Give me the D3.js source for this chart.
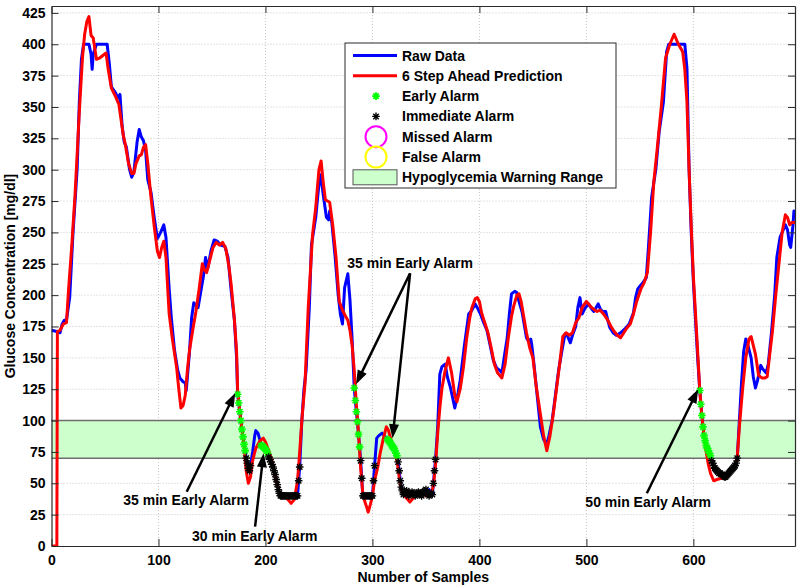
<!DOCTYPE html>
<html>
<head>
<meta charset="utf-8">
<script src="https://cdn.jsdelivr.net/npm/d3@7"></script>
<style>
  body { margin: 0; background: #fff; }
  text { font-family: "Liberation Sans", Arial, sans-serif; font-weight: bold; fill: #000; }
</style>
</head>
<body>
<div id="chart"></div>
<script>
// tick labels
const sampleTicks = [0, 100, 200, 300, 400, 500, 600];
const valueTicks = [0, 25, 50, 75, 100, 125, 150, 175, 200, 225, 250, 275, 300, 325, 350, 375, 400, 425];

// hypoglycemia warning range
const warnLow = 70, warnHigh = 100;

// raw CGM data (sample index, mg/dl)
const rawSamples = [0,5,8,10,12,14,17,20,24,26,28,30,35,37,38,39,42,52,54,56,60,62,64,66,68,70,73,75,77,80,82,84,86,88,90,93,96,99,102,105,107,110,112,115,118,120,123,125,126,129,131,133,135,137,140,142,144,146,149,152,155,158,162,165,168,171,173,174,175,176,177,178,179,180,181,182,183,184,185,186,188,190,191,193,195,196,198,200,202,203,205,207,209,211,213,214,230,231,232,234,236,238,241,243,247,249,251,252,254,257,259,260,262,265,268,270,272,274,277,279,281,283,284,285,286,287,288,289,290,291,300,301,302,304,306,309,312,314,316,318,320,322,323,324,325,326,327,328,329,332,335,338,341,344,347,350,353,356,357,358,359,361,363,365,368,370,373,377,380,382,386,390,393,396,398,401,404,407,410,413,416,419,421,424,426,428,430,433,435,437,440,442,444,446,448,449,451,454,457,460,463,465,468,471,474,477,480,482,485,487,490,492,494,496,499,502,505,507,509,511,513,515,518,520,522,525,528,532,536,540,544,546,548,550,553,556,558,561,565,568,572,575,577,592,594,596,598,600,602,604,606,607,608,609,610,611,612,613,614,615,616,617,619,621,623,625,627,629,630,632,634,636,638,640,641,643,645,647,649,651,654,656,658,660,663,665,668,670,673,676,678,681,684,686,688,690,691,693,694,695];
const rawValues = [172,171,170,177,180,180,198,248,301,354,388,400,400,392,380,392,400,400,385,366,361,357,360,335,322,318,300,294,298,322,332,326,323,315,292,282,262,245,250,256,246,205,182,156,140,134,131,130,124,155,182,194,192,190,205,215,230,221,235,244,243,240,239,230,203,180,150,121,114,107,100,93,87,81,76,70,66,62,60,64,75,88,92,90,84,80,79,77,74,71,67,63,57,49,42,40,40,52,63,100,125,140,190,240,262,280,296,294,280,262,260,267,258,232,200,185,177,206,217,196,165,126,116,107,99,89,79,68,54,40,40,52,64,86,88,90,87,85,83,80,78,74,72,67,60,52,47,44,41,44,40,43,42,40,43,41,45,41,50,60,69,95,137,143,145,135,126,110,122,132,160,185,188,193,190,185,178,172,160,148,142,140,138,155,166,185,201,203,202,195,186,176,166,163,165,160,145,120,95,85,81,88,100,120,140,155,169,168,162,168,175,190,198,185,190,193,189,187,190,193,189,187,187,180,174,170,168,170,173,177,186,198,205,207,210,214,238,278,301,330,354,394,400,400,381,300,250,211,180,150,124,113,104,95,88,84,80,78,76,74,72,68,64,61,59,58,57,55,55,57,59,61,63,66,70,100,130,155,165,160,150,135,126,132,144,141,138,145,170,200,230,246,252,256,252,240,238,255,267,265];

// 6 step ahead prediction
const predSamples = [0,5,5.5,8,11,14,16,19,22,26,29,31,33,35,37,39,42,45,48,51,53,56,60,63,65,67,69,72,75,77,79,82,84,86,88,90,93,96,99,101,103,105,107,110,113,117,119,121,123,125,127,129,132,135,138,141,143,145,148,151,154,157,160,163,166,168,171,173,174,176,178,180,182,184,186,188,191,195,198,200,203,206,208,210,213,216,220,224,227,230,232,234,237,240,244,247,250,252,254,256,258,260,263,266,269,272,275,277,279,281,283,285,287,289,291,293,295,296,298,300,302,305,307,310,313,315,318,321,323,325,327,330,333,335,337,340,345,350,355,357,359,361,363,365,368,371,374,377,379,382,385,388,391,393,396,398,400,402,405,408,411,414,417,421,424,427,430,432,435,437,439,441,444,447,450,453,457,460,463,466,469,472,475,478,481,484,487,490,493,496,500,503,505,508,510,513,516,520,523,526,529,532,535,538,541,544,547,551,554,557,560,563,566,570,574,578,582,586,590,592,594,596,598,600,602,604,606,608,610,612,614,616,619,622,626,630,634,638,641,643,646,649,652,654,656,658,661,664,667,669,671,674,677,680,683,686,688,690,692,695];
const predValues = [0,0,171,172,177,178,205,240,280,346,390,408,418,422,407,405,388,389,391,393,380,365,358,352,340,328,320,305,297,297,305,311,312,318,320,305,278,255,235,230,238,243,230,185,165,142,125,110,112,120,140,156,172,187,205,225,220,218,228,238,242,240,242,237,222,208,180,155,124,107,93,80,60,50,55,68,78,84,86,83,76,68,60,52,43,40,38,34,37,52,75,100,130,190,248,270,300,307,290,276,275,274,255,230,195,188,183,180,172,160,140,112,90,62,42,35,30,27,33,40,52,63,73,85,95,92,83,75,68,55,45,40,37,35,37,40,43,40,42,48,65,90,110,126,140,150,138,120,115,125,142,165,182,190,197,198,195,186,178,170,158,145,138,134,145,166,183,191,200,201,195,185,170,158,150,128,105,88,76,88,105,125,145,167,170,168,170,178,182,190,195,192,190,188,187,188,185,180,175,171,168,166,170,174,177,185,195,205,210,218,250,290,315,350,389,400,408,400,394,380,354,300,255,215,185,155,124,103,88,75,65,58,52,53,54,56,58,62,70,95,125,150,165,167,160,153,136,134,134,135,150,172,200,225,250,264,262,256,258,258];

// early alarm markers
const earlySamples = [174,175,176,177,178,179,180,181,196,197,198,199,200,201,202,283,284,285,286,287,288,314,315,316,317,318,319,320,321,322,323,606,607,608,609,610,611,612,613,614,615,616];
const earlyValues = [121,114,107,100,93,87,81,76,80,80,79,78,77,76,74,126,116,107,99,89,79,85,84,83,82,80,79,78,76,74,72,124,113,104,95,88,84,80,78,76,74,72];

// immediate alarm markers
const immSamples = [182,183,184,185,186,203,204,205,206,207,208,209,210,211,212,213,214,215,216,217,218,219,220,221,222,223,224,225,226,227,228,229,230,231,232,289,290,291,292,293,294,295,296,297,298,299,300,301,302,324,325,326,327,328,329,330,331,332,333,334,335,336,337,338,339,340,341,342,343,344,345,346,347,348,349,350,351,352,353,354,355,356,357,358,359,617,618,619,620,621,622,623,624,625,626,627,628,629,630,631,632,633,634,635,636,637,638,639,640,641];
const immValues = [70,66,62,60,64,71,69,67,65,63,60,57,53,49,45,42,40,40,40,40,40,40,40,40,40,40,40,40,40,40,40,40,40,52,63,68,54,40,40,40,40,40,40,40,40,40,40,52,64,67,60,52,47,44,41,42,43,44,42,40,41,42,43,42,41,40,41,42,43,42,41,40,42,43,44,45,43,41,40,41,42,41,50,60,69,68,66,64,62,61,60,59,58,58,57,57,56,55,55,56,57,58,59,60,61,62,63,64,66,70];

const legendLabels = ["Raw Data", "6 Step Ahead Prediction", "Early Alarm", "Immediate Alarm", "Missed Alarm", "False Alarm", "Hypoglycemia Warning Range"];

// annotation text and arrows, in data units
const notes = [
  {text: "35 min Early Alarm", at: [125.8, 32.5], arrows: [[126.4, 43.3, 171.8, 122]]},
  {text: "30 min Early Alarm", at: [190, 3.8], arrows: [[190.3, 15.4, 198.2, 74]]},
  {text: "35 min Early Alarm", at: [335.2, 221.6], arrows: [[335.2, 217.4, 284.7, 129], [335.2, 217.4, 318.8, 86]]},
  {text: "50 min Early Alarm", at: [557.7, 31], arrows: [[556.5, 42, 604.5, 125]]}
];

const width = 800, height = 585;
const plotLeft = 51.5, plotRight = 795, plotTop = 6, plotBottom = 546;

const x = d3.scaleLinear().domain([0, 695]).range([plotLeft, plotRight]);
const y = d3.scaleLinear().domain([0, 430.5]).range([plotBottom, plotTop]);

const svg = d3.select("#chart").append("svg")
  .attr("width", width)
  .attr("height", height);

svg.append("rect").attr("width", width).attr("height", height).attr("fill", "#fff");

svg.append("defs").append("clipPath").attr("id", "clip")
  .append("rect").attr("x", plotLeft).attr("y", plotTop)
  .attr("width", plotRight - plotLeft).attr("height", plotBottom - plotTop);

// grid
let grid = svg.append("g").attr("stroke", "#c8c8c8").attr("stroke-dasharray", "1,2").attr("stroke-width", 1);
grid.selectAll(".gx").data(sampleTicks.slice(1)).join("line")
  .attr("x1", d => x(d)).attr("x2", d => x(d)).attr("y1", plotTop).attr("y2", plotBottom);
grid.selectAll(".gy").data(valueTicks.slice(1)).join("line")
  .attr("x1", plotLeft).attr("x2", plotRight).attr("y1", d => y(d)).attr("y2", d => y(d));

// warning band
svg.append("rect")
  .attr("x", plotLeft).attr("width", plotRight - plotLeft)
  .attr("y", y(warnHigh)).attr("height", y(warnLow) - y(warnHigh))
  .attr("fill", "#ccffcc");
svg.selectAll(".band-edge").data([warnLow, warnHigh]).join("line")
  .attr("x1", plotLeft).attr("x2", plotRight).attr("y1", d => y(d)).attr("y2", d => y(d))
  .attr("stroke", "#6e6e6e").attr("stroke-width", 1.5);

// curves
let line = d3.line().x(d => x(d[0])).y(d => y(d[1]));
let plot = svg.append("g").attr("clip-path", "url(#clip)");

plot.append("path")
  .datum(d3.zip(rawSamples, rawValues))
  .attr("d", line)
  .attr("fill", "none").attr("stroke", "#0000ff").attr("stroke-width", 3)
  .attr("stroke-linejoin", "round");

plot.append("path")
  .datum(d3.zip(predSamples, predValues))
  .attr("d", line)
  .attr("fill", "none").attr("stroke", "#ff0000").attr("stroke-width", 3)
  .attr("stroke-linejoin", "round");

// asterisk marker like matlab '*'
function star(r) {
  let k = r * 0.72;
  return "M" + (-r) + ",0H" + r + "M0," + (-r) + "V" + r +
    "M" + (-k) + "," + (-k) + "L" + k + "," + k + "M" + (-k) + "," + k + "L" + k + "," + (-k);
}

plot.selectAll(".early").data(d3.zip(earlySamples, earlyValues)).join("path")
  .attr("transform", d => "translate(" + x(d[0]) + "," + y(d[1]) + ")")
  .attr("d", star(3.8))
  .attr("stroke", "#00ff00").attr("stroke-width", 1.6).attr("fill", "none");

plot.selectAll(".imm").data(d3.zip(immSamples, immValues)).join("path")
  .attr("transform", d => "translate(" + x(d[0]) + "," + y(d[1]) + ")")
  .attr("d", star(3.8))
  .attr("stroke", "#000").attr("stroke-width", 1.3).attr("fill", "none");

// axes: bottom and left with labels, top and right ticks only
let ax = svg.append("g").attr("transform", "translate(0," + plotBottom + ")")
  .call(d3.axisBottom(x).tickValues(sampleTicks).tickSize(-7).tickSizeOuter(0).tickPadding(9));
let ay = svg.append("g").attr("transform", "translate(" + plotLeft + ",0)")
  .call(d3.axisLeft(y).tickValues(valueTicks).tickSize(-7).tickSizeOuter(0).tickPadding(6));
let at = svg.append("g").attr("transform", "translate(0," + plotTop + ")")
  .call(d3.axisTop(x).tickValues(sampleTicks).tickSize(-7).tickSizeOuter(0).tickFormat(""));
let ar = svg.append("g").attr("transform", "translate(" + plotRight + ",0)")
  .call(d3.axisRight(y).tickValues(valueTicks).tickSize(-7).tickSizeOuter(0).tickFormat(""));

[ax, ay, at, ar].forEach(function(g) {
  g.selectAll("path").attr("stroke", "#2a2a2a").attr("stroke-width", 1.2);
  g.selectAll("line").attr("stroke", "#2a2a2a");
  g.selectAll("text")
    .style("font-family", "'Liberation Sans', Arial, sans-serif")
    .style("font-weight", "bold").style("font-size", "14px").attr("fill", "#000");
});

// axis titles
svg.append("text")
  .attr("x", (plotLeft + plotRight) / 2).attr("y", 582)
  .attr("text-anchor", "middle").style("font-size", "14px")
  .text("Number of Samples");

svg.append("text")
  .attr("transform", "translate(15," + (plotTop + plotBottom) / 2 + ") rotate(-90)")
  .attr("text-anchor", "middle").style("font-size", "14px")
  .text("Glucose Concentration [mg/dl]");

// annotations
function arrow(g, x1, y1, x2, y2) {
  let a = Math.atan2(y2 - y1, x2 - x1);
  let len = 14, half = 5;
  let bx = x2 - len * Math.cos(a), by = y2 - len * Math.sin(a);
  g.append("line")
    .attr("x1", x1).attr("y1", y1).attr("x2", bx + 2 * Math.cos(a)).attr("y2", by + 2 * Math.sin(a))
    .attr("stroke", "#000").attr("stroke-width", 2.5);
  g.append("path")
    .attr("d", "M" + x2 + "," + y2 +
      "L" + (bx - half * Math.sin(a)) + "," + (by + half * Math.cos(a)) +
      "L" + (bx + half * Math.sin(a)) + "," + (by - half * Math.cos(a)) + "Z")
    .attr("fill", "#000");
}

let ann = svg.append("g");
notes.forEach(function(n) {
  n.arrows.forEach(function(r) {
    arrow(ann, x(r[0]), y(r[1]), x(r[2]), y(r[3]));
  });
  ann.append("text")
    .attr("x", x(n.at[0])).attr("y", y(n.at[1]))
    .attr("text-anchor", "middle").style("font-size", "14px")
    .text(n.text);
});

// legend
let lg = svg.append("g").attr("transform", "translate(345,43)");
lg.append("rect").attr("width", 271).attr("height", 145)
  .attr("fill", "#fff").attr("stroke", "#2a2a2a").attr("stroke-width", 1);

let rowY = function(i) { return 12.5 + i * 20.3; };
let mx = 31;

lg.append("line").attr("x1", 8).attr("x2", 52).attr("y1", rowY(0)).attr("y2", rowY(0))
  .attr("stroke", "#0000ff").attr("stroke-width", 3);
lg.append("line").attr("x1", 8).attr("x2", 52).attr("y1", rowY(1)).attr("y2", rowY(1))
  .attr("stroke", "#ff0000").attr("stroke-width", 3);
lg.append("path").attr("transform", "translate(" + mx + "," + rowY(2) + ")")
  .attr("d", star(3.8)).attr("stroke", "#00ff00").attr("stroke-width", 1.8);
lg.append("path").attr("transform", "translate(" + mx + "," + rowY(3) + ")")
  .attr("d", star(3.8)).attr("stroke", "#000").attr("stroke-width", 1.4);
lg.append("circle").attr("cx", mx).attr("cy", rowY(4)).attr("r", 10.5)
  .attr("fill", "none").attr("stroke", "#ff00ff").attr("stroke-width", 2);
lg.append("circle").attr("cx", mx).attr("cy", rowY(5)).attr("r", 10.5)
  .attr("fill", "none").attr("stroke", "#ffff00").attr("stroke-width", 2);
lg.append("rect").attr("x", 8).attr("y", rowY(6) - 7.5).attr("width", 44).attr("height", 15)
  .attr("fill", "#ccffcc").attr("stroke", "#555").attr("stroke-width", 1);

lg.selectAll(".lt").data(legendLabels).join("text")
  .attr("x", 57).attr("y", (d, i) => rowY(i) + 5)
  .style("font-size", "14px")
  .text(d => d);
</script>
</body>
</html>
